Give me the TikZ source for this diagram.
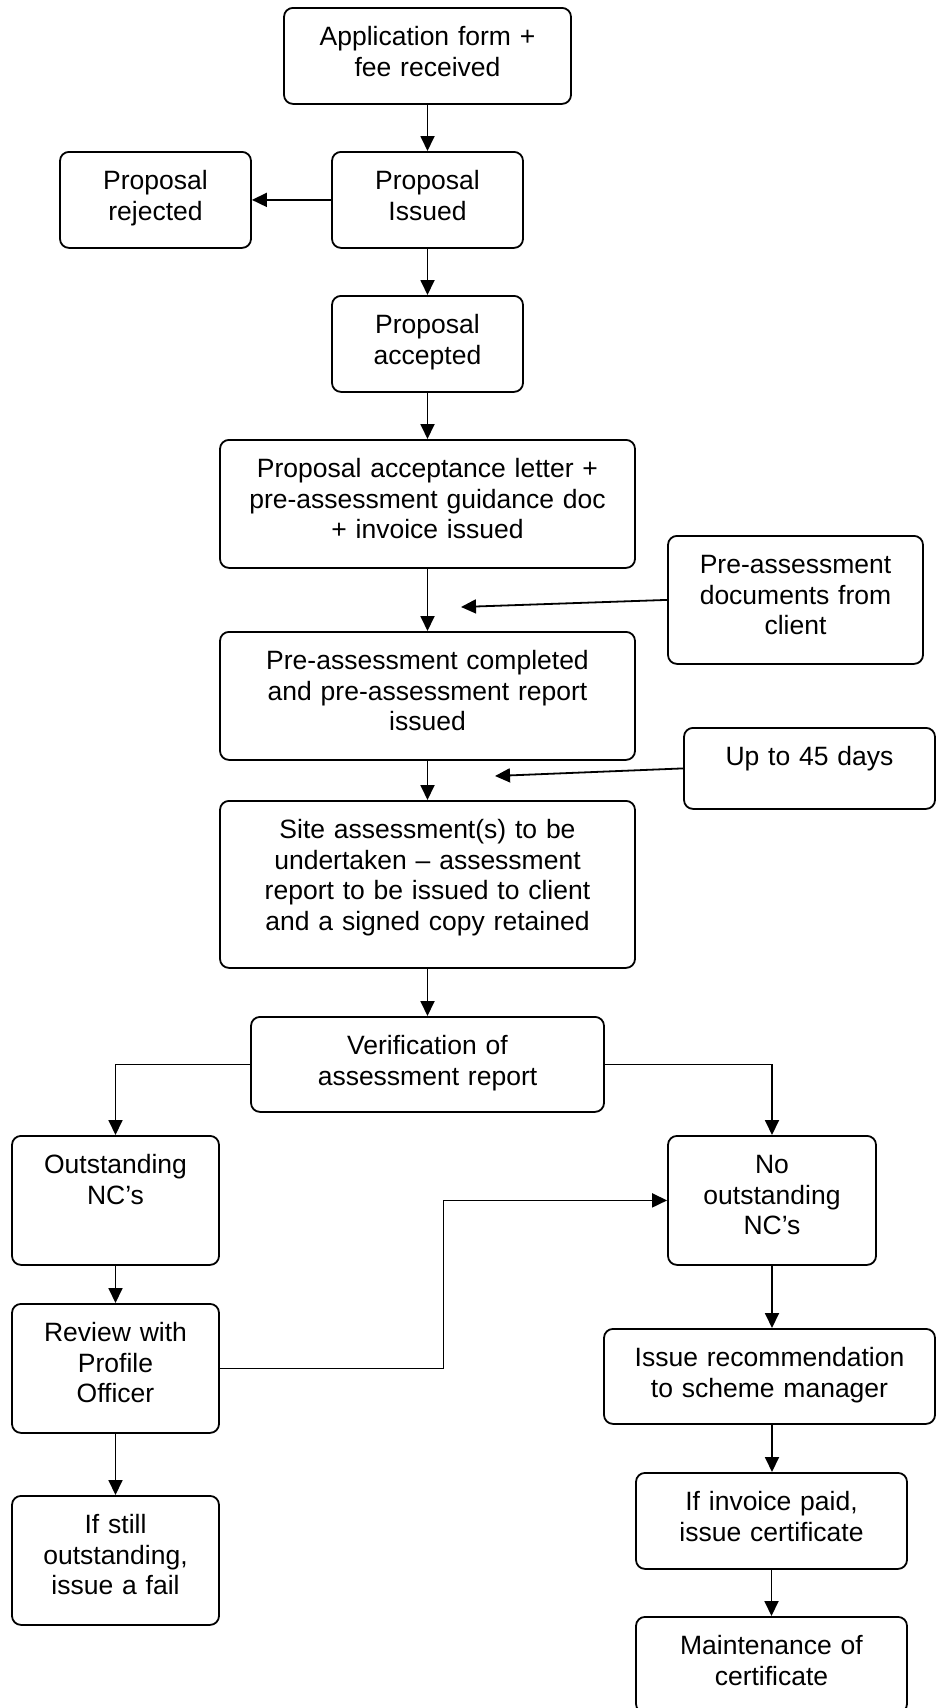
\documentclass[tikz,border=0pt]{standalone}
\usepackage{fontspec}
\setmainfont{Liberation Sans}
\usepackage{tikz}
\usetikzlibrary{arrows.meta,calc}

\begin{document}
\begin{tikzpicture}[x=1pt,y=-1pt,
  font=\fontsize{26.5}{30.5}\selectfont,
  flow/.style={draw,line width=1.8pt,rounded corners=9pt,align=center,
               inner sep=0pt,text height=38pt,anchor=north},
  link/.style={line width=1.8pt,-{Triangle[length=15pt,width=14pt]}}]
  \useasboundingbox (0,0) rectangle (937,1708);

  % main column
  \node[flow,text width=287pt,text depth=58pt] (app) at (427.5,7)
    {Application form +\\fee received};
  \node[flow,text width=191pt,text depth=58pt] (issued) at (427.5,151)
    {Proposal\\Issued};
  \node[flow,text width=191pt,text depth=58pt] (rejected) at (155.5,151)
    {Proposal\\rejected};
  \node[flow,text width=191pt,text depth=58pt] (accepted) at (427.5,295)
    {Proposal\\accepted};
  \node[flow,text width=415pt,text depth=90pt] (letter) at (427.5,439)
    {Proposal acceptance letter +\\pre-assessment guidance doc\\+ invoice issued};
  \node[flow,text width=415pt,text depth=90pt] (precomp) at (427.5,631)
    {Pre-assessment completed\\and pre-assessment report\\issued};
  \node[flow,text width=415pt,text depth=129pt] (site) at (427.5,800)
    {Site assessment(s) to be\\undertaken – assessment\\report to be issued to client\\and a signed copy retained};
  \node[flow,text width=353pt,text depth=57pt] (verif) at (427.5,1016)
    {Verification of\\assessment report};

  % inputs on the right
  \node[flow,text width=255pt,text depth=90pt] (docs) at (795.5,535)
    {Pre-assessment\\documents from\\client};
  \node[flow,text width=251pt,text depth=43pt] (days) at (809.5,727)
    {Up to 45 days};
  \coordinate (docsend) at (461,607);
  \coordinate (daysend) at (495,776);

  % outstanding branch
  \node[flow,text width=207pt,text depth=91pt] (outst) at (115.5,1135)
    {Outstanding\\NC’s};
  \node[flow,text width=207pt,text depth=91pt] (review) at (115.5,1303)
    {Review with\\Profile\\Officer};
  \node[flow,text width=207pt,text depth=91pt] (fail) at (115.5,1495)
    {If still\\outstanding,\\issue a fail};

  % no outstanding branch
  \node[flow,text width=208pt,text depth=91pt] (noout) at (772,1135)
    {No\\outstanding\\NC’s};
  \node[flow,text width=331pt,text depth=57pt] (recom) at (769.5,1328)
    {Issue recommendation\\to scheme manager};
  \node[flow,text width=271pt,text depth=58pt] (paid) at (771.5,1472)
    {If invoice paid,\\issue certificate};
  \node[flow,text width=271pt,text depth=58pt] (maint) at (771.5,1616)
    {Maintenance of\\certificate};

  \draw[link] (app) -- (issued);
  \draw[link] (issued) -- (rejected);
  \draw[link] (issued) -- (accepted);
  \draw[link] (accepted) -- (letter);
  \draw[link] (letter) -- (precomp);
  \draw[link] (precomp) -- (site);
  \draw[link] (site) -- (verif);
  \draw[link] (docs.west) -- (docsend);
  \draw[link] (days.west) -- (daysend);
  \draw[link] (verif.west) -| (outst.north);
  \draw[link] (verif.east) -| (noout.north);
  \draw[link] (outst) -- (review);
  \draw[link] (review) -- (fail);
  \draw[link] (review.east) -| ($(review.east)!.5!(noout.west)$) |- (noout.west);
  \draw[link] (noout.south) -- (noout.south |- recom.north);
  \draw[link] (recom.south -| noout.south) -- (noout.south |- paid.north);
  \draw[link] (paid) -- (maint);
\end{tikzpicture}
\end{document}
